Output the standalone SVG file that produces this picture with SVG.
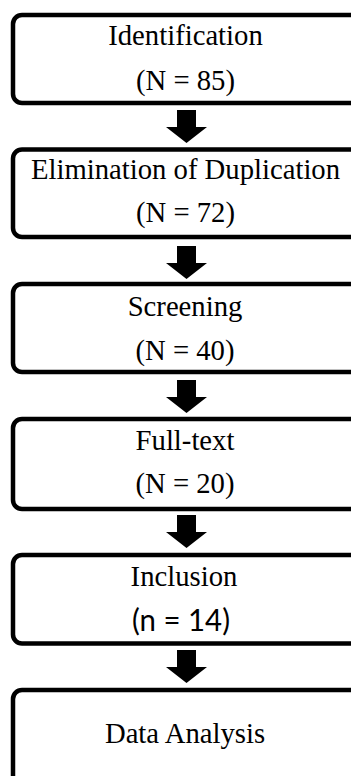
<svg xmlns="http://www.w3.org/2000/svg" width="351" height="776" viewBox="0 0 351 776">
  <style>
    .box { fill: #ffffff; stroke: #000000; stroke-width: 4.5; }
    .arrow { fill: #000000; }
    .serif { font-family: "Liberation Serif", "Times New Roman", serif; font-size: 28.7px; fill: #000000; text-anchor: middle; }
    .sans { font-family: Lato, "Liberation Sans", sans-serif; font-size: 30px; fill: #000000; text-anchor: middle; }
  </style>
  <defs>
    <!-- block arrow pointing down, tip at origin -->
    <polygon id="down" points="-9.5,-33 9.5,-33 9.5,-16 20.5,-16 0,0 -20.5,-16 -9.5,-16"/>
  </defs>

  <g id="connectors" class="arrow">
    <use href="#down" x="186.5" y="143"/>
    <use href="#down" x="186.5" y="279"/>
    <use href="#down" x="186.5" y="413"/>
    <use href="#down" x="186.5" y="548"/>
    <use href="#down" x="186.5" y="683"/>
  </g>

  <g id="identification">
    <rect class="box" x="13" y="15" width="352" height="88" rx="9"/>
    <text class="serif" x="185.5" y="45">Identification</text>
    <text class="serif" x="185.5" y="90">(N = 85)</text>
  </g>

  <g id="elimination">
    <rect class="box" x="13" y="149.5" width="352" height="87.5" rx="9"/>
    <text class="serif" x="185.5" y="179">Elimination of Duplication</text>
    <text class="serif" x="185.5" y="222">(N = 72)</text>
  </g>

  <g id="screening">
    <rect class="box" x="13" y="284" width="352" height="88" rx="9"/>
    <text class="serif" x="185" y="315.5">Screening</text>
    <text class="serif" x="185" y="360">(N = 40)</text>
  </g>

  <g id="fulltext">
    <rect class="box" x="13" y="419" width="352" height="90" rx="9"/>
    <text class="serif" x="185" y="450">Full-text</text>
    <text class="serif" x="185" y="493">(N = 20)</text>
  </g>

  <g id="inclusion">
    <rect class="box" x="13" y="555" width="352" height="88.5" rx="9"/>
    <text class="serif" x="184" y="586">Inclusion</text>
    <text class="sans" x="181" y="631" textLength="98" lengthAdjust="spacingAndGlyphs">(n = 14)</text>
  </g>

  <g id="analysis">
    <rect class="box" x="13" y="690" width="352" height="95" rx="9"/>
    <text class="serif" x="185" y="743">Data Analysis</text>
  </g>
</svg>
